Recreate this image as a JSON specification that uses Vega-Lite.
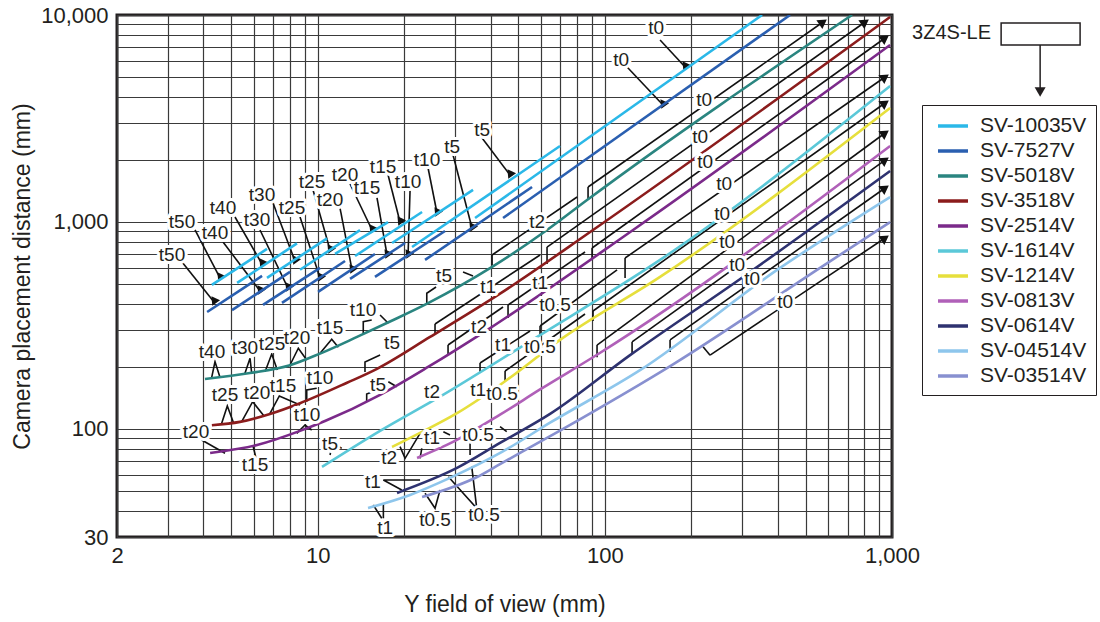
{
  "$schema": "https://vega.github.io/schema/vega-lite/v6.json",
  "width": 775,
  "height": 522,
  "autosize": {"type": "none"},
  "padding": {"left": 117, "top": 15, "right": 208, "bottom": 85},
  "background": "white",
  "config": {
    "view": {"stroke": "#231f20", "strokeWidth": 3},
    "font": "Liberation Sans"
  },
  "datasets": {
    "curves": [
      {"lens": "SV-10035V", "seg": "t50", "x": 4.28, "y": 496}, {"lens": "SV-10035V", "seg": "t50", "x": 6.66, "y": 740},
      {"lens": "SV-10035V", "seg": "t40", "x": 5.24, "y": 507}, {"lens": "SV-10035V", "seg": "t40", "x": 8.47, "y": 787},
      {"lens": "SV-10035V", "seg": "t30", "x": 6.66, "y": 536}, {"lens": "SV-10035V", "seg": "t30", "x": 10.78, "y": 832},
      {"lens": "SV-10035V", "seg": "t25", "x": 8.68, "y": 587}, {"lens": "SV-10035V", "seg": "t25", "x": 14.04, "y": 912},
      {"lens": "SV-10035V", "seg": "t20", "x": 11.49, "y": 700}, {"lens": "SV-10035V", "seg": "t20", "x": 17.58, "y": 998},
      {"lens": "SV-10035V", "seg": "t15", "x": 13.49, "y": 684}, {"lens": "SV-10035V", "seg": "t15", "x": 23.09, "y": 1117},
      {"lens": "SV-10035V", "seg": "t10", "x": 18.15, "y": 791}, {"lens": "SV-10035V", "seg": "t10", "x": 34.75, "y": 1427},
      {"lens": "SV-10035V", "seg": "t5", "x": 21.31, "y": 756}, {"lens": "SV-10035V", "seg": "t5", "x": 69.8, "y": 2328},
      {"lens": "SV-10035V", "seg": "t0", "x": 35.31, "y": 1044}, {"lens": "SV-10035V", "seg": "t0", "x": 352.8, "y": 10000},
      {"lens": "SV-7527V", "seg": "t50", "x": 4.12, "y": 367}, {"lens": "SV-7527V", "seg": "t50", "x": 6.4, "y": 548},
      {"lens": "SV-7527V", "seg": "t40", "x": 5.03, "y": 375}, {"lens": "SV-7527V", "seg": "t40", "x": 8.01, "y": 573},
      {"lens": "SV-7527V", "seg": "t30", "x": 6.45, "y": 397}, {"lens": "SV-7527V", "seg": "t30", "x": 10.19, "y": 599},
      {"lens": "SV-7527V", "seg": "t25", "x": 7.51, "y": 406}, {"lens": "SV-7527V", "seg": "t25", "x": 12.45, "y": 647},
      {"lens": "SV-7527V", "seg": "t20", "x": 10.03, "y": 459}, {"lens": "SV-7527V", "seg": "t20", "x": 15.83, "y": 700},
      {"lens": "SV-7527V", "seg": "t15", "x": 12.96, "y": 530}, {"lens": "SV-7527V", "seg": "t15", "x": 20.15, "y": 791},
      {"lens": "SV-7527V", "seg": "t10", "x": 15.83, "y": 542}, {"lens": "SV-7527V", "seg": "t10", "x": 27.76, "y": 904},
      {"lens": "SV-7527V", "seg": "t5", "x": 23.65, "y": 655}, {"lens": "SV-7527V", "seg": "t5", "x": 55.78, "y": 1475},
      {"lens": "SV-7527V", "seg": "t0", "x": 44.2, "y": 1044}, {"lens": "SV-7527V", "seg": "t0", "x": 441.6, "y": 10000},
      {"lens": "SV-5018V", "seg": "a", "x": 4.05, "y": 174}, {"lens": "SV-5018V", "seg": "a", "x": 5.81, "y": 186},
      {"lens": "SV-5018V", "seg": "a", "x": 8.01, "y": 203}, {"lens": "SV-5018V", "seg": "a", "x": 10.19, "y": 231},
      {"lens": "SV-5018V", "seg": "a", "x": 13.71, "y": 278}, {"lens": "SV-5018V", "seg": "a", "x": 17.86, "y": 330},
      {"lens": "SV-5018V", "seg": "a", "x": 24.23, "y": 405}, {"lens": "SV-5018V", "seg": "a", "x": 40.48, "y": 606},
      {"lens": "SV-5018V", "seg": "a", "x": 62.9, "y": 914}, {"lens": "SV-5018V", "seg": "a", "x": 86.7, "y": 1276},
      {"lens": "SV-5018V", "seg": "a", "x": 726, "y": 10000},
      {"lens": "SV-3518V", "seg": "a", "x": 4.28, "y": 104}, {"lens": "SV-3518V", "seg": "a", "x": 5.36, "y": 108},
      {"lens": "SV-3518V", "seg": "a", "x": 6.82, "y": 118}, {"lens": "SV-3518V", "seg": "a", "x": 8.68, "y": 133},
      {"lens": "SV-3518V", "seg": "a", "x": 12.65, "y": 167}, {"lens": "SV-3518V", "seg": "a", "x": 16.09, "y": 195},
      {"lens": "SV-3518V", "seg": "a", "x": 24.62, "y": 278}, {"lens": "SV-3518V", "seg": "a", "x": 43.15, "y": 450},
      {"lens": "SV-3518V", "seg": "a", "x": 90.95, "y": 914}, {"lens": "SV-3518V", "seg": "a", "x": 985, "y": 9779},
      {"lens": "SV-2514V", "seg": "a", "x": 4.22, "y": 76.4}, {"lens": "SV-2514V", "seg": "a", "x": 6.15, "y": 83.5},
      {"lens": "SV-2514V", "seg": "a", "x": 8.68, "y": 97.7}, {"lens": "SV-2514V", "seg": "a", "x": 10.6, "y": 109},
      {"lens": "SV-2514V", "seg": "a", "x": 16.49, "y": 146}, {"lens": "SV-2514V", "seg": "a", "x": 24.23, "y": 199},
      {"lens": "SV-2514V", "seg": "a", "x": 38.89, "y": 300}, {"lens": "SV-2514V", "seg": "a", "x": 125.4, "y": 914},
      {"lens": "SV-2514V", "seg": "a", "x": 985, "y": 7161},
      {"lens": "SV-1614V", "seg": "a", "x": 10.35, "y": 65.4}, {"lens": "SV-1614V", "seg": "a", "x": 16.49, "y": 97.7},
      {"lens": "SV-1614V", "seg": "a", "x": 26.67, "y": 143}, {"lens": "SV-1614V", "seg": "a", "x": 58.53, "y": 280},
      {"lens": "SV-1614V", "seg": "a", "x": 155.7, "y": 655}, {"lens": "SV-1614V", "seg": "a", "x": 985, "y": 4538},
      {"lens": "SV-1214V", "seg": "a", "x": 18.15, "y": 81.7}, {"lens": "SV-1214V", "seg": "a", "x": 22.72, "y": 95.5},
      {"lens": "SV-1214V", "seg": "a", "x": 30.56, "y": 119}, {"lens": "SV-1214V", "seg": "a", "x": 44.2, "y": 167},
      {"lens": "SV-1214V", "seg": "a", "x": 69.8, "y": 269}, {"lens": "SV-1214V", "seg": "a", "x": 155.7, "y": 542},
      {"lens": "SV-1214V", "seg": "a", "x": 985, "y": 3552},
      {"lens": "SV-0813V", "seg": "a", "x": 22.18, "y": 72.3}, {"lens": "SV-0813V", "seg": "a", "x": 29.6, "y": 86.4},
      {"lens": "SV-0813V", "seg": "a", "x": 43.15, "y": 117}, {"lens": "SV-0813V", "seg": "a", "x": 59.48, "y": 155},
      {"lens": "SV-0813V", "seg": "a", "x": 93.93, "y": 228}, {"lens": "SV-0813V", "seg": "a", "x": 985, "y": 2328},
      {"lens": "SV-0614V", "seg": "a", "x": 18.89, "y": 49}, {"lens": "SV-0614V", "seg": "a", "x": 30.56, "y": 64.7},
      {"lens": "SV-0614V", "seg": "a", "x": 43.15, "y": 85.4}, {"lens": "SV-0614V", "seg": "a", "x": 64.44, "y": 118},
      {"lens": "SV-0614V", "seg": "a", "x": 122.4, "y": 227}, {"lens": "SV-0614V", "seg": "a", "x": 302.9, "y": 542},
      {"lens": "SV-0614V", "seg": "a", "x": 985, "y": 1762},
      {"lens": "SV-04514V", "seg": "a", "x": 14.97, "y": 41.4}, {"lens": "SV-04514V", "seg": "a", "x": 20.97, "y": 47.9},
      {"lens": "SV-04514V", "seg": "a", "x": 28.89, "y": 57.9}, {"lens": "SV-04514V", "seg": "a", "x": 43.85, "y": 77.3},
      {"lens": "SV-04514V", "seg": "a", "x": 64.44, "y": 107}, {"lens": "SV-04514V", "seg": "a", "x": 132.6, "y": 192},
      {"lens": "SV-04514V", "seg": "a", "x": 398, "y": 586}, {"lens": "SV-04514V", "seg": "a", "x": 985, "y": 1319},
      {"lens": "SV-03514V", "seg": "a", "x": 23.09, "y": 46.8}, {"lens": "SV-03514V", "seg": "a", "x": 35.88, "y": 58.5},
      {"lens": "SV-03514V", "seg": "a", "x": 43.15, "y": 67.5}, {"lens": "SV-03514V", "seg": "a", "x": 69.8, "y": 98},
      {"lens": "SV-03514V", "seg": "a", "x": 172.8, "y": 205}, {"lens": "SV-03514V", "seg": "a", "x": 561.7, "y": 600},
      {"lens": "SV-03514V", "seg": "a", "x": 985, "y": 998}
    ],
    "leaders": [
      {"x": 3.739, "y": 914, "x2": 4.567, "y2": 536}, {"x": 5.152, "y": 1056, "x2": 6.397, "y2": 626},
      {"x": 6.988, "y": 1234, "x2": 8.337, "y2": 647}, {"x": 9.632, "y": 1427, "x2": 11.04, "y2": 732},
      {"x": 12.96, "y": 1525, "x2": 15.46, "y2": 914}, {"x": 17.58, "y": 1685, "x2": 19.35, "y2": 999},
      {"x": 24.23, "y": 1822, "x2": 26.03, "y2": 1104}, {"x": 29.6, "y": 2106, "x2": 34.47, "y2": 934},
      {"x": 37.36, "y": 2544, "x2": 46.75, "y2": 1685},
      {"x": 3.369, "y": 640, "x2": 4.354, "y2": 410}, {"x": 4.68, "y": 800, "x2": 6.296, "y2": 464},
      {"x": 6.296, "y": 914, "x2": 7.88, "y2": 479}, {"x": 8.679, "y": 1056, "x2": 10.19, "y2": 536},
      {"x": 11.96, "y": 1167, "x2": 13.17, "y2": 586}, {"x": 16.09, "y": 1305, "x2": 17.44, "y2": 692},
      {"x": 20.97, "y": 1427, "x2": 20.64, "y2": 692},
      {"x": 155.7, "y": 7572, "x2": 190.3, "y2": 5607}, {"x": 119.5, "y": 5607, "x2": 159.4, "y2": 3673},
      {"x": 87.4, "y": 1475, "x2": 575.4, "y2": 9251}, {"x": 87.4, "y": 1276, "x2": 87.4, "y2": 1475},
      {"x": 62.9, "y": 756, "x2": 806, "y2": 9251}, {"x": 62.9, "y": 626, "x2": 62.9, "y2": 756},
      {"x": 90.25, "y": 748, "x2": 945.9, "y2": 7742}, {"x": 90.25, "y": 669, "x2": 90.25, "y2": 748},
      {"x": 117.6, "y": 669, "x2": 945.9, "y2": 5016}, {"x": 117.6, "y": 536, "x2": 117.6, "y2": 669},
      {"x": 90.95, "y": 371, "x2": 945.9, "y2": 3755}, {"x": 90.95, "y": 332, "x2": 90.95, "y2": 371},
      {"x": 93.93, "y": 254, "x2": 945.9, "y2": 2690}, {"x": 93.93, "y": 222, "x2": 93.93, "y2": 254},
      {"x": 124.4, "y": 263, "x2": 945.9, "y2": 1991}, {"x": 124.4, "y": 232.5, "x2": 124.4, "y2": 263},
      {"x": 168.7, "y": 269, "x2": 945.9, "y2": 1458}, {"x": 168.7, "y": 235, "x2": 168.7, "y2": 269},
      {"x": 232.5, "y": 227, "x2": 945.9, "y2": 836}, {"x": 219.8, "y": 249, "x2": 232.5, "y2": 227},
      {"x": 40.48, "y": 619, "x2": 40.48, "y2": 692}, {"x": 40.48, "y": 692, "x2": 80.04, "y2": 1319},
      {"x": 25.62, "y": 287.3, "x2": 25.62, "y2": 321.1}, {"x": 25.62, "y": 321.1, "x2": 59.48, "y2": 692},
      {"x": 28.44, "y": 227.4, "x2": 28.44, "y2": 254.2}, {"x": 28.44, "y": 254.2, "x2": 44.2, "y2": 388},
      {"x": 46.01, "y": 343.3, "x2": 46.01, "y2": 396.7}, {"x": 46.01, "y": 396.7, "x2": 85.3, "y2": 715.6},
      {"x": 36.76, "y": 186.1, "x2": 36.76, "y2": 208}, {"x": 36.76, "y": 208, "x2": 54.9, "y2": 297.1},
      {"x": 59.48, "y": 281, "x2": 59.48, "y2": 314}, {"x": 59.48, "y": 314, "x2": 110.3, "y2": 585.7},
      {"x": 44.93, "y": 170.3, "x2": 44.93, "y2": 190.3}, {"x": 44.93, "y": 190.3, "x2": 85.3, "y2": 358.8}
    ],
    "zig": [
      {"id": 1, "k": 1, "x": 4.274, "y": 177.4}, {"id": 1, "k": 2, "x": 4.388, "y": 211.0}, {"id": 1, "k": 3, "x": 4.567, "y": 177.4},
      {"id": 2, "k": 1, "x": 5.581, "y": 185.5}, {"id": 2, "k": 2, "x": 5.812, "y": 219.2}, {"id": 2, "k": 3, "x": 5.891, "y": 185.5},
      {"id": 3, "k": 1, "x": 6.555, "y": 188.9}, {"id": 3, "k": 2, "x": 6.916, "y": 229.9}, {"id": 3, "k": 3, "x": 7.234, "y": 192.4},
      {"id": 4, "k": 1, "x": 8.01, "y": 203.4}, {"id": 4, "k": 2, "x": 8.561, "y": 245.1}, {"id": 4, "k": 3, "x": 9.157, "y": 215.1},
      {"id": 5, "k": 1, "x": 10.19, "y": 231.7}, {"id": 5, "k": 2, "x": 11.19, "y": 270.8}, {"id": 5, "k": 3, "x": 11.8, "y": 247.7},
      {"id": 6, "k": 1, "x": 4.631, "y": 106.3}, {"id": 6, "k": 2, "x": 4.844, "y": 128.9}, {"id": 6, "k": 3, "x": 5.083, "y": 107.5},
      {"id": 7, "k": 1, "x": 5.436, "y": 108.2}, {"id": 7, "k": 2, "x": 5.937, "y": 135.2}, {"id": 7, "k": 3, "x": 6.501, "y": 115.3},
      {"id": 8, "k": 1, "x": 6.822, "y": 118.9}, {"id": 8, "k": 2, "x": 7.351, "y": 144.1}, {"id": 8, "k": 3, "x": 8.679, "y": 130.4},
      {"id": 9, "k": 1, "x": 9.157, "y": 135.2}, {"id": 9, "k": 2, "x": 9.157, "y": 154}, {"id": 9, "k": 3, "x": 9.922, "y": 157},
      {"id": 10, "k": 1, "x": 3.945, "y": 88.3}, {"id": 10, "k": 2, "x": 4.755, "y": 76.2},
      {"id": 11, "k": 1, "x": 5.952, "y": 82.6}, {"id": 11, "k": 2, "x": 6.097, "y": 72.3},
      {"id": 12, "k": 1, "x": 8.452, "y": 95.1}, {"id": 12, "k": 2, "x": 9.031, "y": 104.3}, {"id": 12, "k": 3, "x": 9.53, "y": 98.7},
      {"id": 13, "k": 1, "x": 14.41, "y": 284}, {"id": 13, "k": 2, "x": 14.41, "y": 329.4}, {"id": 13, "k": 3, "x": 15.42, "y": 335.7},
      {"id": 14, "k": 1, "x": 16.49, "y": 354.9}, {"id": 14, "k": 2, "x": 17.62, "y": 323.6},
      {"id": 15, "k": 1, "x": 14.61, "y": 188.2}, {"id": 15, "k": 2, "x": 14.61, "y": 210.4}, {"id": 15, "k": 3, "x": 16.49, "y": 227.4},
      {"id": 16, "k": 1, "x": 14.81, "y": 135.2}, {"id": 16, "k": 2, "x": 14.81, "y": 147.3}, {"id": 16, "k": 3, "x": 15.46, "y": 150.7},
      {"id": 17, "k": 1, "x": 17.62, "y": 168.9}, {"id": 17, "k": 2, "x": 18.85, "y": 159.8},
      {"id": 18, "k": 1, "x": 11.04, "y": 74.7}, {"id": 18, "k": 2, "x": 11.19, "y": 81.97},
      {"id": 19, "k": 1, "x": 11.65, "y": 83.5}, {"id": 19, "k": 2, "x": 12.12, "y": 80.5},
      {"id": 20, "k": 1, "x": 19.35, "y": 81.97}, {"id": 20, "k": 2, "x": 20.15, "y": 72.03}, {"id": 20, "k": 3, "x": 22.72, "y": 95.1},
      {"id": 21, "k": 1, "x": 22.72, "y": 56.59}, {"id": 21, "k": 2, "x": 16.93, "y": 56.59}, {"id": 21, "k": 3, "x": 19.62, "y": 50.6},
      {"id": 22, "k": 1, "x": 15.62, "y": 42.83}, {"id": 22, "k": 2, "x": 16.71, "y": 36.95},
      {"id": 23, "k": 1, "x": 16.93, "y": 43.65}, {"id": 23, "k": 2, "x": 16.93, "y": 36.95},
      {"id": 24, "k": 1, "x": 23.65, "y": 48.8}, {"id": 24, "k": 2, "x": 25.62, "y": 41.29}, {"id": 24, "k": 3, "x": 26.67, "y": 50.6},
      {"id": 25, "k": 1, "x": 28.51, "y": 58.7}, {"id": 25, "k": 2, "x": 35.8, "y": 41.29}, {"id": 25, "k": 3, "x": 34.39, "y": 65.6},
      {"id": 26, "k": 1, "x": 22.72, "y": 72.03}, {"id": 26, "k": 2, "x": 23.04, "y": 80.5},
      {"id": 27, "k": 1, "x": 27.39, "y": 96.85}, {"id": 27, "k": 2, "x": 28.89, "y": 93.3},
      {"id": 28, "k": 1, "x": 33.93, "y": 85.1}, {"id": 28, "k": 2, "x": 33.93, "y": 74.7},
      {"id": 29, "k": 1, "x": 43.15, "y": 102.4}, {"id": 29, "k": 2, "x": 45.53, "y": 96.85},
      {"id": 30, "k": 1, "x": 23.98, "y": 404.2}, {"id": 30, "k": 2, "x": 23.98, "y": 451.9}, {"id": 30, "k": 3, "x": 25.83, "y": 484.6},
      {"id": 31, "k": 1, "x": 32.07, "y": 572.8}, {"id": 31, "k": 2, "x": 34.75, "y": 547.9}
    ],
    "headsRight": [
      {"x": 575.4, "y": 9251}, {"x": 806, "y": 9251}, {"x": 945.9, "y": 7742}, {"x": 945.9, "y": 5016},
      {"x": 945.9, "y": 3755}, {"x": 945.9, "y": 2690}, {"x": 945.9, "y": 1991}, {"x": 945.9, "y": 1458},
      {"x": 945.9, "y": 836}
    ],
    "headsDown": [
      {"x": 4.567, "y": 536}, {"x": 6.397, "y": 626}, {"x": 8.337, "y": 647}, {"x": 11.04, "y": 732},
      {"x": 15.46, "y": 914}, {"x": 19.35, "y": 999}, {"x": 26.03, "y": 1104}, {"x": 34.47, "y": 934},
      {"x": 46.75, "y": 1685}, {"x": 4.354, "y": 410}, {"x": 6.296, "y": 464}, {"x": 7.88, "y": 479},
      {"x": 10.19, "y": 536}, {"x": 13.17, "y": 586}, {"x": 17.44, "y": 692}, {"x": 20.64, "y": 692},
      {"x": 190.3, "y": 5607}, {"x": 159.4, "y": 3673}
    ],
    "labels": [
      {"t": "t50", "x": 3.369, "y": 999}, {"t": "t40", "x": 4.68, "y": 1167}, {"t": "t30", "x": 6.397, "y": 1349},
      {"t": "t25", "x": 9.555, "y": 1559}, {"t": "t20", "x": 12.45, "y": 1685}, {"t": "t15", "x": 16.89, "y": 1842},
      {"t": "t10", "x": 24.03, "y": 1991}, {"t": "t5", "x": 37.36, "y": 2781},
      {"t": "t50", "x": 3.109, "y": 692}, {"t": "t40", "x": 4.388, "y": 884}, {"t": "t30", "x": 6.146, "y": 1021},
      {"t": "t25", "x": 8.137, "y": 1167}, {"t": "t20", "x": 11.04, "y": 1276}, {"t": "t15", "x": 14.85, "y": 1458},
      {"t": "t10", "x": 20.64, "y": 1559}, {"t": "t5", "x": 29.37, "y": 2301},
      {"t": "t0", "x": 150.8, "y": 8652}, {"t": "t0", "x": 113.9, "y": 6061}, {"t": "t0", "x": 221.6, "y": 3884},
      {"t": "t0", "x": 214.6, "y": 2573}, {"t": "t0", "x": 223.4, "y": 1947}, {"t": "t0", "x": 260.2, "y": 1525},
      {"t": "t0", "x": 256, "y": 1092}, {"t": "t0", "x": 266.5, "y": 799.8}, {"t": "t0", "x": 288.7, "y": 619},
      {"t": "t0", "x": 325.6, "y": 529.9}, {"t": "t0", "x": 424.2, "y": 410.1},
      {"t": "t2", "x": 58.07, "y": 999}, {"t": "t5", "x": 27.54, "y": 547.9}, {"t": "t1", "x": 39.2, "y": 484.6},
      {"t": "t1", "x": 59.48, "y": 506.8}, {"t": "t0.5", "x": 67.09, "y": 396.7}, {"t": "t10", "x": 14.38, "y": 375.2},
      {"t": "t2", "x": 36.46, "y": 310.5}, {"t": "t15", "x": 11.04, "y": 307.1}, {"t": "t5", "x": 18.15, "y": 259.9},
      {"t": "t1", "x": 44.2, "y": 254.2}, {"t": "t0.5", "x": 59.48, "y": 248.6}, {"t": "t40", "x": 4.284, "y": 235.1},
      {"t": "t30", "x": 5.581, "y": 245.9}, {"t": "t25", "x": 6.933, "y": 257}, {"t": "t20", "x": 8.472, "y": 274.8},
      {"t": "t10", "x": 10.19, "y": 176.1}, {"t": "t5", "x": 16.22, "y": 162.8}, {"t": "t2", "x": 25.01, "y": 150.7},
      {"t": "t1", "x": 36.18, "y": 154}, {"t": "t0.5", "x": 43.85, "y": 147.3}, {"t": "t25", "x": 4.755, "y": 145.7},
      {"t": "t20", "x": 6.146, "y": 149}, {"t": "t15", "x": 7.573, "y": 161.1}, {"t": "t10", "x": 9.18, "y": 116.6},
      {"t": "t20", "x": 3.769, "y": 96.5}, {"t": "t15", "x": 6.05, "y": 66.88}, {"t": "t5", "x": 11.04, "y": 84.46},
      {"t": "t2", "x": 17.72, "y": 72.3}, {"t": "t1", "x": 25.01, "y": 90.3}, {"t": "t0.5", "x": 36.18, "y": 93.3},
      {"t": "t1", "x": 15.58, "y": 55.34}, {"t": "t1", "x": 17.16, "y": 33.17}, {"t": "t0.5", "x": 25.62, "y": 36.25},
      {"t": "t0.5", "x": 37.96, "y": 38.33}
    ],
    "anno": [{"t": "3Z4S-LE", "x": 1175, "y": 8185}],
    "box": [{"x": 2399, "x2": 4519, "y": 7161, "y2": 9148}],
    "drop": [{"x": 3280, "y": 7161, "y2": 4439}],
    "dropHead": [{"x": 3280, "y": 4250}]
  },
  "encoding": {
    "x": {
      "field": "x", "type": "quantitative",
      "scale": {"type": "log", "domain": [2, 1000]},
      "axis": {
        "title": "Y field of view (mm)",
        "values": [2, 3, 4, 5, 6, 7, 8, 9, 10, 20, 30, 40, 50, 60, 70, 80, 90, 100, 200, 300, 400, 500, 600, 700, 800, 900, 1000],
        "format": ",",
        "labelExpr": "indexof([2, 10, 100, 1000], datum.value) >= 0 ? datum.label : ''",
        "labelOverlap": false, "labelFlush": false,
        "grid": true, "gridColor": "#3a3a3a", "gridWidth": 1.2, "gridOpacity": 1,
        "ticks": false, "domain": false,
        "labelFont": "Liberation Sans", "labelFontSize": 22, "labelColor": "#231f20", "labelPadding": 8,
        "titleFont": "Liberation Sans", "titleFontSize": 23, "titleFontWeight": "normal", "titleColor": "#231f20", "titlePadding": 27
      }
    },
    "y": {
      "field": "y", "type": "quantitative",
      "scale": {"type": "log", "domain": [30, 10000]},
      "axis": {
        "title": "Camera placement distance (mm)",
        "values": [30, 40, 50, 60, 70, 80, 90, 100, 200, 300, 400, 500, 600, 700, 800, 900, 1000, 2000, 3000, 4000, 5000, 6000, 7000, 8000, 9000, 10000],
        "format": ",",
        "labelExpr": "indexof([30, 100, 1000, 10000], datum.value) >= 0 ? datum.label : ''",
        "labelOverlap": false, "labelFlush": false,
        "grid": true, "gridColor": "#3a3a3a", "gridWidth": 1.2, "gridOpacity": 1,
        "ticks": false, "domain": false,
        "labelFont": "Liberation Sans", "labelFontSize": 22, "labelColor": "#231f20", "labelPadding": 9,
        "titleFont": "Liberation Sans", "titleFontSize": 23, "titleFontWeight": "normal", "titleColor": "#231f20", "titlePadding": 6,
        "titleLimit": 800
      }
    }
  },
  "layer": [
    {
      "data": {"name": "leaders"},
      "mark": {"type": "rule", "color": "#111111", "strokeWidth": 1.6},
      "encoding": {"x2": {"field": "x2"}, "y2": {"field": "y2"}}
    },
    {
      "data": {"name": "zig"},
      "mark": {"type": "line", "color": "#111111", "strokeWidth": 1.6},
      "encoding": {"detail": {"field": "id"}, "order": {"field": "k"}}
    },
    {
      "data": {"name": "headsRight"},
      "mark": {"type": "point", "shape": "triangle-right", "filled": true, "color": "#111111", "size": 110, "angle": -35, "opacity": 1}
    },
    {
      "data": {"name": "headsDown"},
      "mark": {"type": "point", "shape": "triangle-down", "filled": true, "color": "#111111", "size": 90, "angle": 25, "opacity": 1}
    },
    {
      "data": {"name": "curves"},
      "mark": {"type": "line", "strokeWidth": 2.6, "clip": true, "interpolate": "monotone"},
      "encoding": {
        "detail": {"field": "seg"},
        "color": {
          "field": "lens", "type": "nominal",
          "scale": {
            "domain": ["SV-10035V", "SV-7527V", "SV-5018V", "SV-3518V", "SV-2514V", "SV-1614V", "SV-1214V", "SV-0813V", "SV-0614V", "SV-04514V", "SV-03514V"],
            "range": ["#2bb8e8", "#2a5fb0", "#2a8580", "#8b1c1c", "#7b2a8a", "#5bc8d8", "#e6df3c", "#b060b8", "#2e3270", "#8ec6ec", "#8890d0"]
          },
          "legend": {
            "title": null, "orient": "none", "legendX": 805, "legendY": 90,
            "labelFont": "Liberation Sans", "labelFontSize": 21, "labelColor": "#231f20", "labelOffset": 15,
            "symbolType": "M-1.5,0H1.5", "symbolStrokeWidth": 3.5, "symbolSize": 400, "symbolOffset": 10,
            "strokeColor": "#231f20", "padding": 9, "rowPadding": 3
          }
        }
      }
    },
    {
      "data": {"name": "labels"},
      "mark": {"type": "text", "font": "Liberation Sans", "fontSize": 19, "stroke": "white", "strokeWidth": 6, "strokeJoin": "round", "fill": "white"},
      "encoding": {"text": {"field": "t"}}
    },
    {
      "data": {"name": "labels"},
      "mark": {"type": "text", "font": "Liberation Sans", "fontSize": 19, "fill": "#231f20"},
      "encoding": {"text": {"field": "t"}}
    },
    {
      "data": {"name": "anno"},
      "mark": {"type": "text", "font": "Liberation Sans", "fontSize": 20, "align": "left", "fill": "#231f20"},
      "encoding": {"text": {"field": "t"}}
    },
    {
      "data": {"name": "box"},
      "mark": {"type": "rect", "fillOpacity": 0, "stroke": "#231f20", "strokeWidth": 1.5},
      "encoding": {"x2": {"field": "x2"}, "y2": {"field": "y2"}}
    },
    {
      "data": {"name": "drop"},
      "mark": {"type": "rule", "color": "#231f20", "strokeWidth": 1.5},
      "encoding": {"y2": {"field": "y2"}}
    },
    {
      "data": {"name": "dropHead"},
      "mark": {"type": "point", "shape": "triangle-down", "filled": true, "color": "#231f20", "size": 120, "opacity": 1}
    }
  ]
}
